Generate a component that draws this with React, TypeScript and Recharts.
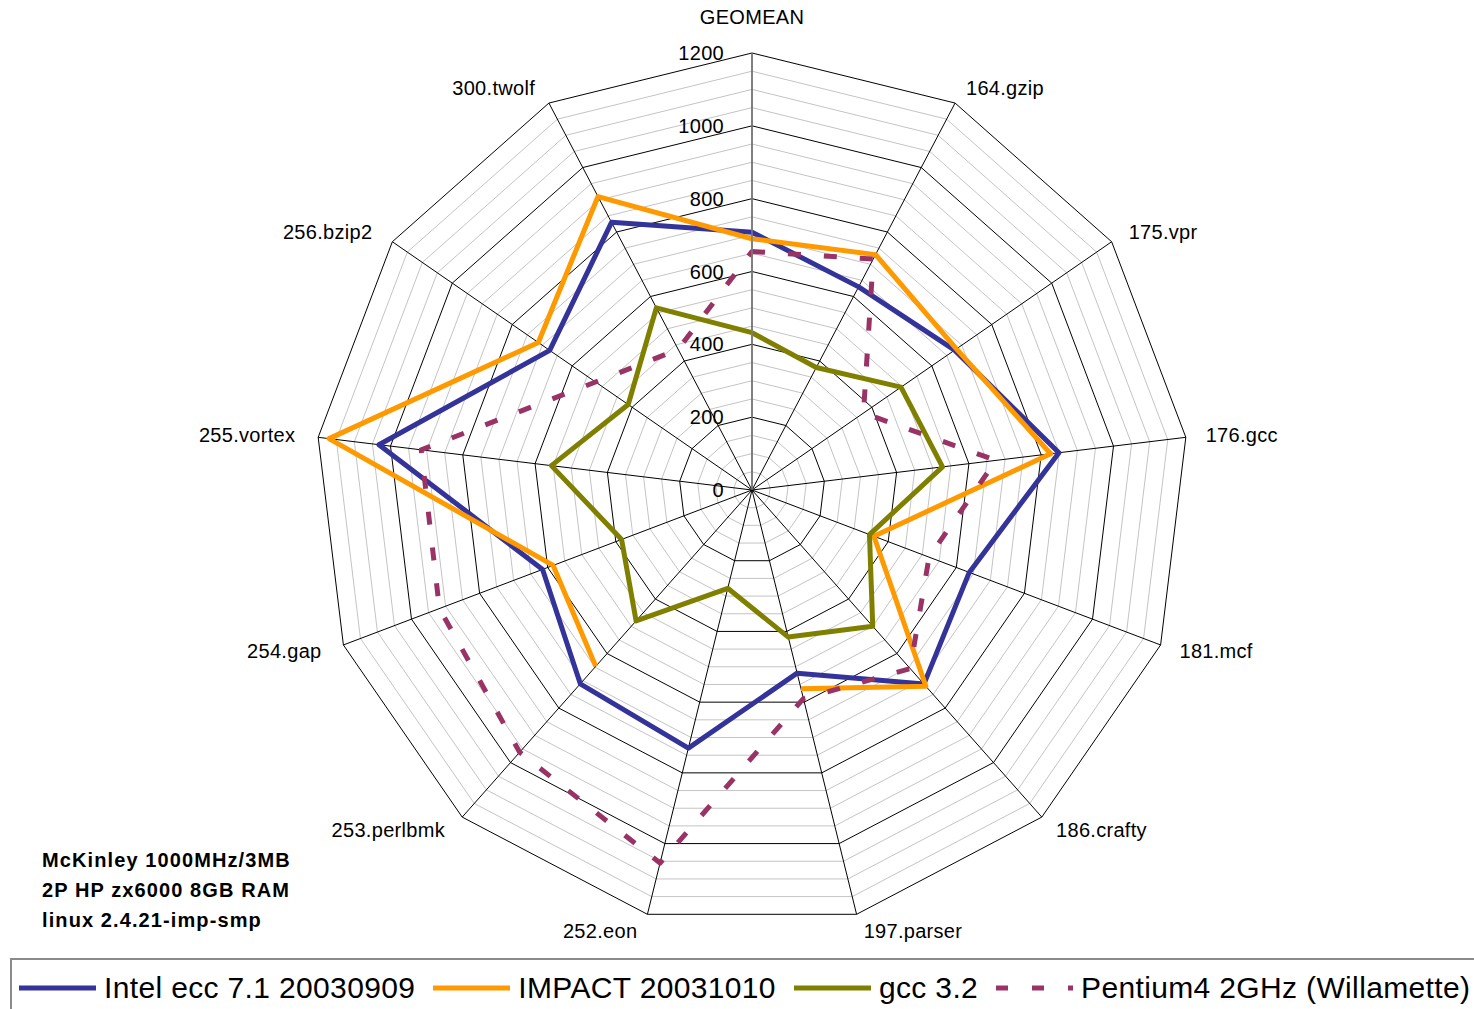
import React from 'react';
import { RadarChart, Radar, PolarGrid, PolarAngleAxis, PolarRadiusAxis, Legend } from 'recharts';

const categories = ['GEOMEAN', '164.gzip', '175.vpr', '176.gcc', '181.mcf', '186.crafty', '197.parser', '252.eon', '253.perlbmk', '254.gap', '255.vortex', '256.bzip2', '300.twolf'];
const intelEcc = [708, 630, 676, 849, 638, 712, 518, 730, 711, 615, 1032, 675, 830];
const impact = [690, 730, 682, 826, 358, 720, 562, null, 647, 584, 1170, 713, 910];
const gcc32 = [432, 380, 497, 527, 345, 500, 416, 278, 480, 383, 555, 413, 565];
const pentium4 = [655, 716, 372, 675, 520, 655, 590, 1055, 962, 918, 915, 522, 436];
const minorTicks = [50, 100, 150, 250, 300, 350, 450, 500, 550, 650, 700, 750, 850, 900, 950, 1050, 1100, 1150];
const noteLines = ['McKinley 1000MHz/3MB', '2P HP zx6000 8GB RAM', 'linux 2.4.21-imp-smp'];

const series = [
  { key: 'intel', name: 'Intel ecc 7.1 20030909', color: '#333399', dash: undefined },
  { key: 'impact', name: 'IMPACT 20031010', color: '#FF9900', dash: undefined },
  { key: 'gcc', name: 'gcc 3.2', color: '#808000', dash: undefined },
  { key: 'p4', name: 'Pentium4 2GHz (Willamette)', color: '#993366', dash: '13 23' },
];

const data = categories.map((name, i) => ({
  name,
  intel: intelEcc[i],
  impact: impact[i],
  gcc: gcc32[i],
  p4: pentium4[i],
}));

const W = 1474;
const H = 1009;
const CX = 752;
const CY = 490;
const R = 437;
const MAX = 1200;
const FONT = 'Arial, "Liberation Sans", Helvetica, sans-serif';

// category labels sit just outside the outer polygon
const AngleTick = (props: any) => {
  const { x, y, payload } = props;
  const dx = x - CX;
  const dy = y - CY;
  const len = Math.hypot(dx, dy) || 1;
  const ux = dx / len;
  const uy = dy / len;
  const r = R + 17;
  let tx = CX + ux * r;
  let ty = CY + uy * r;
  let anchor = 'middle';
  if (ux > 0.01) { anchor = 'start'; tx += 3; }
  else if (ux < -0.01) { anchor = 'end'; tx -= 6; }
  else if (uy < 0) ty -= 19;
  return (
    <text x={tx} y={ty} textAnchor={anchor} dominantBaseline="central" fontSize={20} fontFamily={FONT} letterSpacing={0.3} fill="#000">
      {payload.value}
    </text>
  );
};

const RadiusTick = (props: any) => {
  const { y, payload } = props;
  return (
    <text x={CX - 28} y={y} textAnchor="end" dominantBaseline="central" fontSize={20} fontFamily={FONT} letterSpacing={0.3} fill="#000">
      {payload.value}
    </text>
  );
};

// polygon that leaves a gap where a value is missing (Excel style)
const GapPolygon = (props: any) => {
  const { points, stroke, strokeWidth, strokeDasharray } = props;
  const n = points.length;
  const ok = points.map((p: any) => p.value != null && !Number.isNaN(p.value));
  let d = '';
  if (ok.every(Boolean)) {
    d = points.map((p: any, i: number) => `${i ? 'L' : 'M'}${p.x},${p.y}`).join('') + 'Z';
  } else {
    const start = ok.findIndex((v: boolean) => !v);
    let pen = false;
    for (let k = 1; k <= n; k++) {
      const i = (start + k) % n;
      if (!ok[i]) { pen = false; continue; }
      d += `${pen ? 'L' : 'M'}${points[i].x},${points[i].y}`;
      pen = true;
    }
  }
  return (
    <path d={d} fill="none" stroke={stroke} strokeWidth={strokeWidth} strokeDasharray={strokeDasharray} strokeLinejoin="round" />
  );
};

const LegendBox = () => (
  <div
    style={{
      width: 1480,
      height: 60,
      boxSizing: 'border-box',
      border: '2px solid #8a8a8a',
      display: 'flex',
      alignItems: 'center',
      paddingLeft: 7,
      fontFamily: FONT,
      fontSize: 30,
      letterSpacing: 0.35,
      color: '#000',
      whiteSpace: 'nowrap',
    }}
  >
    {series.map((s) => (
      <div key={s.key} style={{ display: 'flex', alignItems: 'center', marginRight: 18 }}>
        <svg width={77} height={10} style={{ marginRight: 8 }}>
          <line x1={0} y1={5} x2={77} y2={5} stroke={s.color} strokeWidth={5} strokeDasharray={s.dash ? '12 24' : undefined} />
        </svg>
        <span>{s.name}</span>
      </div>
    ))}
  </div>
);

export default function App() {
  return (
    <div style={{ position: 'absolute', left: 0, top: 0, width: W, height: H, background: '#fff', overflow: 'hidden' }}>
      <RadarChart width={W} height={H} data={data} cx={CX} cy={CY} outerRadius={R} margin={{ top: 0, right: 0, bottom: 0, left: 0 }}>
        <PolarGrid gridType="polygon" radialLines={false} polarRadius={minorTicks.map((v) => (v / MAX) * R)} stroke="#c4c4c4" strokeWidth={1} />
        <PolarGrid gridType="polygon" stroke="#000" strokeWidth={1} />
        <PolarAngleAxis dataKey="name" tick={AngleTick} tickLine={false} axisLine={false} />
        <PolarRadiusAxis angle={90} domain={[0, MAX]} tickCount={7} tick={RadiusTick} tickLine={false} axisLine={{ stroke: '#808080', strokeWidth: 1.5 }} />
        {series.map((s) => (
          <Radar
            key={s.key}
            dataKey={s.key}
            name={s.name}
            stroke={s.color}
            strokeWidth={5}
            strokeDasharray={s.dash}
            fill="none"
            fillOpacity={0}
            dot={false}
            shape={GapPolygon}
            isAnimationActive={false}
          />
        ))}
        <Legend content={LegendBox} wrapperStyle={{ position: 'absolute', left: 10, top: 958, width: 1480, height: 60 }} />
      </RadarChart>
      <div style={{ position: 'absolute', left: 42, top: 845, fontFamily: FONT, fontWeight: 'bold', fontSize: 20, lineHeight: '30px', letterSpacing: 1.1, color: '#000' }}>
        {noteLines.map((t) => (
          <div key={t}>{t}</div>
        ))}
      </div>
    </div>
  );
}
